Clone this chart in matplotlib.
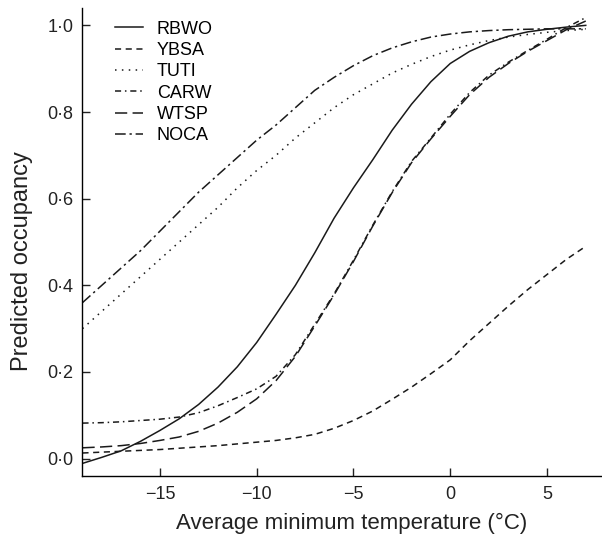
import matplotlib
matplotlib.use("Agg")
import matplotlib.pyplot as plt
import matplotlib.ticker as mticker

plt.rcParams['font.family'] = ['Liberation Sans', 'DejaVu Sans']

# average minimum temperature (deg C), one reading per degree
temp = list(range(-19, 8))

rbwo = [-0.011, 0.003, 0.018, 0.040, 0.065, 0.092, 0.125, 0.165, 0.212, 0.268,
        0.333, 0.400, 0.475, 0.555, 0.625, 0.690, 0.758, 0.818, 0.870, 0.912,
        0.940, 0.960, 0.975, 0.985, 0.991, 0.996, 1.000]
ybsa = [0.013, 0.015, 0.017, 0.019, 0.021, 0.024, 0.027, 0.030, 0.034, 0.038,
        0.042, 0.048, 0.056, 0.070, 0.088, 0.110, 0.137, 0.165, 0.196, 0.228,
        0.272, 0.312, 0.352, 0.390, 0.425, 0.460, 0.490]
tuti = [0.300, 0.340, 0.380, 0.420, 0.460, 0.500, 0.540, 0.580, 0.625, 0.665,
        0.700, 0.740, 0.775, 0.810, 0.840, 0.865, 0.890, 0.910, 0.928, 0.943,
        0.955, 0.965, 0.973, 0.979, 0.984, 0.988, 0.991]
carw = [0.082, 0.083, 0.085, 0.088, 0.091, 0.096, 0.106, 0.122, 0.141, 0.161,
        0.190, 0.240, 0.310, 0.380, 0.458, 0.539, 0.616, 0.686, 0.740, 0.795,
        0.845, 0.885, 0.915, 0.942, 0.968, 0.995, 1.018]
wtsp = [0.025, 0.027, 0.030, 0.035, 0.042, 0.050, 0.063, 0.082, 0.107, 0.138,
        0.180, 0.236, 0.306, 0.378, 0.455, 0.537, 0.614, 0.683, 0.738, 0.790,
        0.840, 0.880, 0.912, 0.940, 0.965, 0.990, 1.010]
noca = [0.360, 0.400, 0.440, 0.480, 0.525, 0.570, 0.615, 0.655, 0.695, 0.735,
        0.770, 0.810, 0.850, 0.880, 0.907, 0.930, 0.948, 0.962, 0.973, 0.980,
        0.985, 0.988, 0.990, 0.991, 0.992, 0.992, 0.992]

species = ['RBWO', 'YBSA', 'TUTI', 'CARW', 'WTSP', 'NOCA']
series = [rbwo, ybsa, tuti, carw, wtsp, noca]
styles = ['-', (0, (4, 3)), (0, (1, 3.5)), (0, (4, 2.5, 1, 2.5)),
          (0, (8, 3.5)), (0, (7, 2.5, 1.5, 2.5))]

xticks = [-15, -10, -5, 0, 5]
yticks = [0.0, 0.2, 0.4, 0.6, 0.8, 1.0]

fig = plt.figure(figsize=(6.02, 5.36), dpi=100)
ax = fig.add_axes([0.136, 0.112, 0.864, 0.873])

for name, vals, ls in zip(species, series, styles):
    ax.plot(temp, vals, color='#1a1a1a', lw=1.1, ls=ls, label=name)

ax.set_xlim(-19.03, 7.84)
ax.set_ylim(-0.04, 1.04)
ax.set_xticks(xticks)
ax.set_yticks(yticks)
ax.xaxis.set_major_formatter(mticker.FuncFormatter(lambda v, p: f"{v:.0f}".replace('-', '\u2212')))
ax.yaxis.set_major_formatter(mticker.FuncFormatter(lambda v, p: f"{v:.1f}".replace('.', '\u00b7')))

for s in ['top', 'right']:
    ax.spines[s].set_visible(False)
for s in ['left', 'bottom']:
    ax.spines[s].set_linewidth(1.0)
ax.tick_params(direction='in', length=6, width=1.0, labelsize=13, colors='#222222')
ax.tick_params(axis='x', pad=7)
ax.tick_params(axis='y', pad=6)

ax.set_xlabel('Average minimum temperature (\u00b0C)', fontsize=16, color='#222222')
ax.set_ylabel('Predicted occupancy', fontsize=17, color='#222222')
ax.xaxis.set_label_coords(0.519, -0.079)
ax.yaxis.set_label_coords(-0.094, 0.459)

ax.legend(loc='upper left', bbox_to_anchor=(0.04, 1.0), frameon=False,
          fontsize=13, handlelength=1.55, handletextpad=0.75,
          labelspacing=0.24, borderpad=0.2)

fig.savefig('out.png', dpi=100)
